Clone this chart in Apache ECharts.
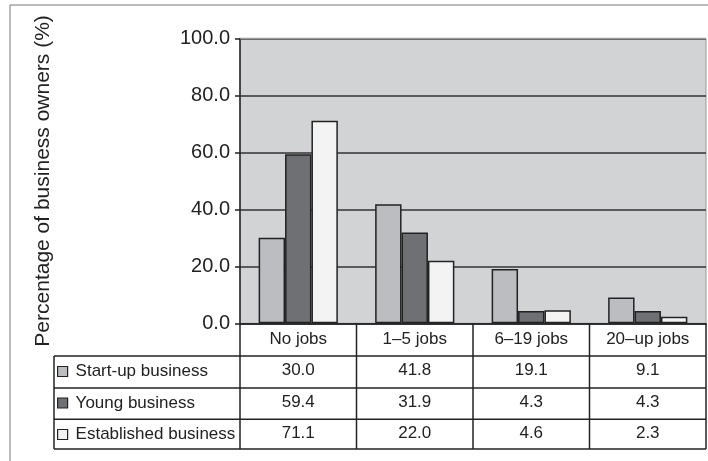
<!DOCTYPE html>
<html>
<head>
<meta charset="utf-8">
<script src="https://cdn.jsdelivr.net/npm/echarts@6/dist/echarts.min.js"></script>
<style>
html,body{margin:0;padding:0;background:#fff;}
#chart{width:708px;height:461px;}
</style>
</head>
<body>
<div id="chart"></div>
<script>
var categories = ['No jobs', '1\u20135 jobs', '6\u201319 jobs', '20\u2013up jobs'];
var seriesNames = ['Start-up business', 'Young business', 'Established business'];
var startUp = [30.0, 41.8, 19.1, 9.1];
var young = [59.4, 31.9, 4.3, 4.3];
var established = [71.1, 22.0, 4.6, 2.3];
var yTicks = [0, 20, 40, 60, 80, 100];
var yTitle = 'Percentage of business owners (%)';

var FONT = '"Liberation Sans", Arial, Helvetica, sans-serif';
var colors = ['#bcbdc0', '#6f7073', '#f3f3f3'];
var values = [startUp, young, established];

var gridLeft = 240, gridRight = 706, gridTop = 38.5, gridBottom = 323.3;
var tableLeft = 54;
var rowLines = [356, 388, 419.3, 449];

var chart = echarts.init(document.getElementById('chart'), null, {renderer: 'canvas'});

function labelFor(value, index) {
  var lines = [categories[index]];
  for (var s = 0; s < values.length; s++) lines.push(values[s][index].toFixed(1));
  return lines.join('\n');
}

var graphics = [];
var lineStyle = {stroke: '#222', lineWidth: 1.5};
// outer frame
graphics.push({type: 'line', shape: {x1: 10, y1: 5, x2: 708, y2: 5}, style: {stroke: '#777', lineWidth: 1}, silent: true});
graphics.push({type: 'line', shape: {x1: 10, y1: 5, x2: 10, y2: 461}, style: {stroke: '#777', lineWidth: 1}, silent: true});
// plot top edge (light)
graphics.push({type: 'line', shape: {x1: gridLeft, y1: gridTop, x2: gridRight, y2: gridTop}, style: {stroke: '#9a9a9a', lineWidth: 1.5}, silent: true, z: 10});
// table horizontal lines
rowLines.forEach(function (y) {
  graphics.push({type: 'line', shape: {x1: tableLeft, y1: y, x2: gridRight, y2: y}, style: lineStyle, silent: true, z: 10});
});
// table vertical lines
var catW = (gridRight - gridLeft) / categories.length;
for (var k = 0; k <= categories.length; k++) {
  var x = gridLeft + k * catW;
  graphics.push({type: 'line', shape: {x1: x, y1: gridBottom, x2: x, y2: rowLines[rowLines.length - 1]}, style: lineStyle, silent: true, z: 10});
}
graphics.push({type: 'line', shape: {x1: tableLeft, y1: rowLines[0], x2: tableLeft, y2: rowLines[rowLines.length - 1]}, style: lineStyle, silent: true, z: 10});

var series = seriesNames.map(function (name, i) {
  return {
    name: name,
    type: 'bar',
    data: values[i],
    barGap: '0%',
    barCategoryGap: '32%',
    itemStyle: {color: colors[i], borderColor: '#222', borderWidth: 1.5},
    emphasis: {disabled: true},
    z: 3
  };
});

chart.setOption({
  animation: false,
  textStyle: {fontFamily: FONT},
  grid: {
    left: gridLeft, top: gridTop, width: gridRight - gridLeft, height: gridBottom - gridTop,
    show: true, backgroundColor: '#d2d3d5', borderColor: '#999', borderWidth: 1
  },
  legend: {
    orient: 'vertical',
    left: 57,
    top: 363,
    padding: 0,
    itemWidth: 10,
    itemHeight: 10,
    itemGap: 14.5,
    icon: 'rect',
    selectedMode: false,
    data: seriesNames,
    textStyle: {fontSize: 17, color: '#222', fontFamily: FONT, padding: [0, 0, 0, 3]},
    itemStyle: {borderColor: '#222', borderWidth: 1.2}
  },
  xAxis: {
    type: 'category',
    data: categories,
    axisLine: {show: true, lineStyle: {color: '#222', width: 1.5}},
    axisTick: {show: false},
    axisLabel: {
      interval: 0, margin: 0, fontSize: 17, color: '#222', lineHeight: 31.5,
      fontFamily: FONT, formatter: labelFor
    },
    splitLine: {show: false}
  },
  yAxis: {
    type: 'value',
    min: yTicks[0],
    max: yTicks[yTicks.length - 1],
    interval: yTicks[1] - yTicks[0],
    name: yTitle,
    nameLocation: 'middle',
    nameGap: 186,
    nameRotate: 90,
    nameTextStyle: {fontSize: 21, color: '#222', fontFamily: FONT},
    axisLine: {show: true, lineStyle: {color: '#222', width: 1.5}},
    axisTick: {show: true, length: 5, lineStyle: {color: '#222', width: 1.5}},
    axisLabel: {
      margin: 10, fontSize: 20, color: '#222', fontFamily: FONT,
      formatter: function (v) { return v.toFixed(1); }
    },
    splitLine: {show: true, lineStyle: {color: '#333', width: 1.5}}
  },
  series: series,
  graphic: graphics
});
</script>
</body>
</html>
